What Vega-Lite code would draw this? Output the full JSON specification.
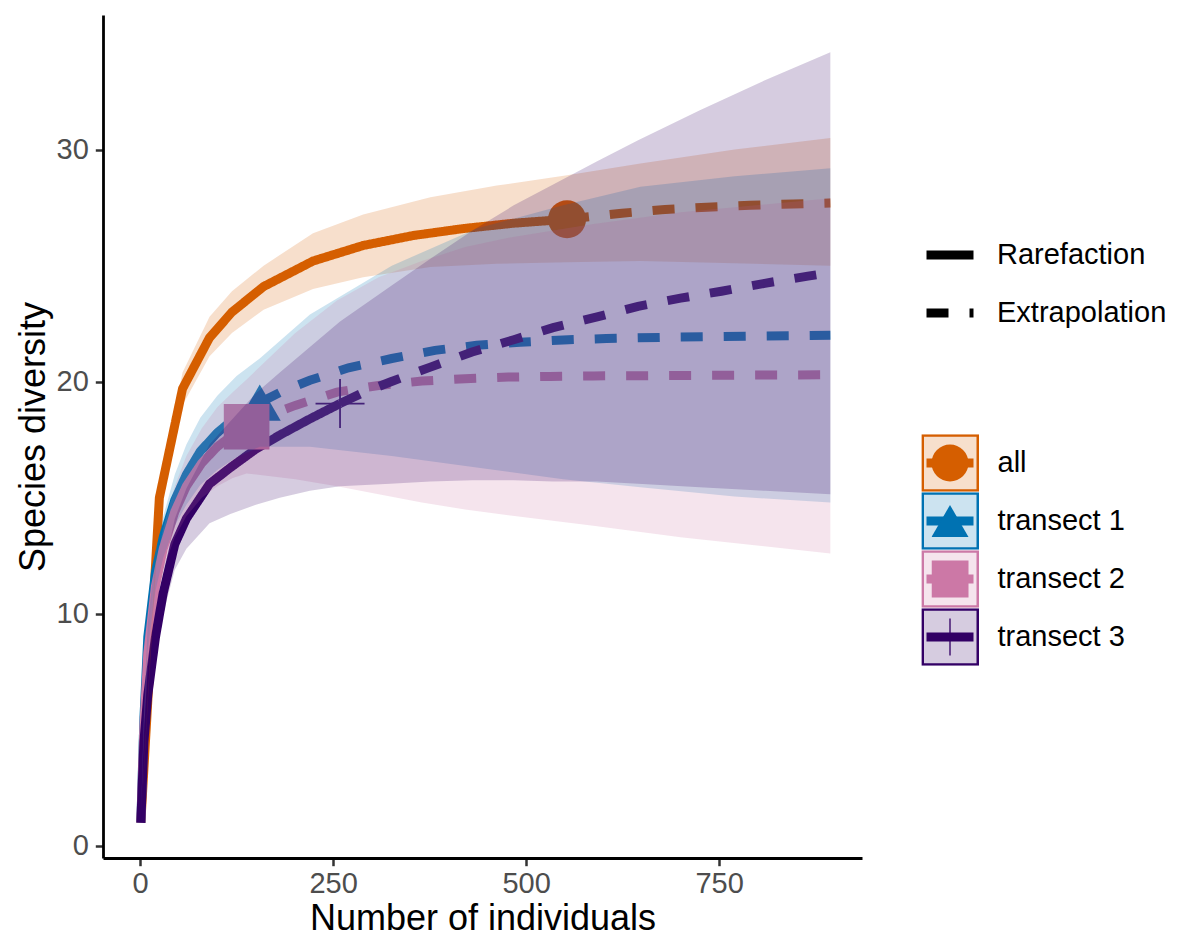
{
  "$schema": "https://vega.github.io/schema/vega-lite/v6.json",
  "width": 759,
  "height": 843,
  "autosize": {"type": "none"},
  "padding": {"left": 103, "top": 15, "right": 325, "bottom": 82},
  "background": "white",
  "config": {
    "font": "Liberation Sans",
    "view": {"stroke": null},
    "axis": {
      "grid": false,
      "domainColor": "black",
      "domainWidth": 2.8,
      "tickColor": "#333333",
      "tickWidth": 2.5,
      "tickSize": 7.7,
      "labelColor": "#4D4D4D",
      "labelFontSize": 29,
      "labelFont": "Liberation Sans",
      "labelPadding": 6,
      "labelFlush": false,
      "labelOverlap": false,
      "titleFont": "Liberation Sans",
      "titleFontSize": 36,
      "titleFontWeight": "normal",
      "titleColor": "black"
    },
    "legend": {
      "labelFont": "Liberation Sans",
      "labelFontSize": 29,
      "labelColor": "black",
      "labelLimit": 400,
      "padding": 0,
      "titlePadding": 0
    }
  },
  "datasets": {
    "curves": [
      {"group": "all", "method": "Rarefaction", "x": 1, "y": 1},
      {"group": "all", "method": "Rarefaction", "x": 25, "y": 15.0},
      {"group": "all", "method": "Rarefaction", "x": 55, "y": 19.7},
      {"group": "all", "method": "Rarefaction", "x": 90, "y": 21.9},
      {"group": "all", "method": "Rarefaction", "x": 119, "y": 23.0},
      {"group": "all", "method": "Rarefaction", "x": 160, "y": 24.1},
      {"group": "all", "method": "Rarefaction", "x": 224, "y": 25.2},
      {"group": "all", "method": "Rarefaction", "x": 289, "y": 25.87},
      {"group": "all", "method": "Rarefaction", "x": 354, "y": 26.3},
      {"group": "all", "method": "Rarefaction", "x": 419, "y": 26.6},
      {"group": "all", "method": "Rarefaction", "x": 484, "y": 26.83},
      {"group": "all", "method": "Rarefaction", "x": 553, "y": 27.0},
      {"group": "all", "method": "Extrapolation", "x": 553, "y": 27.0},
      {"group": "all", "method": "Extrapolation", "x": 624, "y": 27.26},
      {"group": "all", "method": "Extrapolation", "x": 680, "y": 27.42},
      {"group": "all", "method": "Extrapolation", "x": 734, "y": 27.52},
      {"group": "all", "method": "Extrapolation", "x": 790, "y": 27.6},
      {"group": "all", "method": "Extrapolation", "x": 846, "y": 27.66},
      {"group": "all", "method": "Extrapolation", "x": 894, "y": 27.7},
      {"group": "transect 1", "method": "Rarefaction", "x": 1, "y": 1},
      {"group": "transect 1", "method": "Rarefaction", "x": 5, "y": 5.5},
      {"group": "transect 1", "method": "Rarefaction", "x": 10, "y": 9.0},
      {"group": "transect 1", "method": "Rarefaction", "x": 20, "y": 11.8},
      {"group": "transect 1", "method": "Rarefaction", "x": 30, "y": 13.3},
      {"group": "transect 1", "method": "Rarefaction", "x": 45, "y": 14.9},
      {"group": "transect 1", "method": "Rarefaction", "x": 60, "y": 16.0},
      {"group": "transect 1", "method": "Rarefaction", "x": 78, "y": 17.0},
      {"group": "transect 1", "method": "Rarefaction", "x": 100, "y": 17.8},
      {"group": "transect 1", "method": "Rarefaction", "x": 125, "y": 18.5},
      {"group": "transect 1", "method": "Rarefaction", "x": 155, "y": 19.1},
      {"group": "transect 1", "method": "Extrapolation", "x": 155, "y": 19.1},
      {"group": "transect 1", "method": "Extrapolation", "x": 185, "y": 19.6},
      {"group": "transect 1", "method": "Extrapolation", "x": 220, "y": 20.06},
      {"group": "transect 1", "method": "Extrapolation", "x": 270, "y": 20.6},
      {"group": "transect 1", "method": "Extrapolation", "x": 326, "y": 21.0},
      {"group": "transect 1", "method": "Extrapolation", "x": 382, "y": 21.35},
      {"group": "transect 1", "method": "Extrapolation", "x": 436, "y": 21.57},
      {"group": "transect 1", "method": "Extrapolation", "x": 492, "y": 21.7},
      {"group": "transect 1", "method": "Extrapolation", "x": 548, "y": 21.8},
      {"group": "transect 1", "method": "Extrapolation", "x": 604, "y": 21.86},
      {"group": "transect 1", "method": "Extrapolation", "x": 700, "y": 21.93},
      {"group": "transect 1", "method": "Extrapolation", "x": 894, "y": 22.0},
      {"group": "transect 2", "method": "Rarefaction", "x": 1, "y": 1},
      {"group": "transect 2", "method": "Rarefaction", "x": 5, "y": 5.2},
      {"group": "transect 2", "method": "Rarefaction", "x": 10, "y": 8.3},
      {"group": "transect 2", "method": "Rarefaction", "x": 20, "y": 11.2},
      {"group": "transect 2", "method": "Rarefaction", "x": 30, "y": 12.8},
      {"group": "transect 2", "method": "Rarefaction", "x": 45, "y": 14.4},
      {"group": "transect 2", "method": "Rarefaction", "x": 60, "y": 15.5},
      {"group": "transect 2", "method": "Rarefaction", "x": 80, "y": 16.5},
      {"group": "transect 2", "method": "Rarefaction", "x": 100, "y": 17.2},
      {"group": "transect 2", "method": "Rarefaction", "x": 120, "y": 17.7},
      {"group": "transect 2", "method": "Rarefaction", "x": 138, "y": 18.06},
      {"group": "transect 2", "method": "Extrapolation", "x": 138, "y": 18.06},
      {"group": "transect 2", "method": "Extrapolation", "x": 170, "y": 18.6},
      {"group": "transect 2", "method": "Extrapolation", "x": 201, "y": 18.98},
      {"group": "transect 2", "method": "Extrapolation", "x": 255, "y": 19.55},
      {"group": "transect 2", "method": "Extrapolation", "x": 309, "y": 19.84},
      {"group": "transect 2", "method": "Extrapolation", "x": 365, "y": 20.03},
      {"group": "transect 2", "method": "Extrapolation", "x": 421, "y": 20.13},
      {"group": "transect 2", "method": "Extrapolation", "x": 477, "y": 20.2},
      {"group": "transect 2", "method": "Extrapolation", "x": 531, "y": 20.23},
      {"group": "transect 2", "method": "Extrapolation", "x": 587, "y": 20.25},
      {"group": "transect 2", "method": "Extrapolation", "x": 700, "y": 20.27},
      {"group": "transect 2", "method": "Extrapolation", "x": 894, "y": 20.3},
      {"group": "transect 3", "method": "Rarefaction", "x": 1, "y": 1},
      {"group": "transect 3", "method": "Rarefaction", "x": 5, "y": 4.5},
      {"group": "transect 3", "method": "Rarefaction", "x": 10, "y": 6.5},
      {"group": "transect 3", "method": "Rarefaction", "x": 20, "y": 9.0},
      {"group": "transect 3", "method": "Rarefaction", "x": 30, "y": 10.9},
      {"group": "transect 3", "method": "Rarefaction", "x": 45, "y": 13.0},
      {"group": "transect 3", "method": "Rarefaction", "x": 60, "y": 14.1},
      {"group": "transect 3", "method": "Rarefaction", "x": 90, "y": 15.6},
      {"group": "transect 3", "method": "Rarefaction", "x": 117, "y": 16.3},
      {"group": "transect 3", "method": "Rarefaction", "x": 150, "y": 17.1},
      {"group": "transect 3", "method": "Rarefaction", "x": 181, "y": 17.7},
      {"group": "transect 3", "method": "Rarefaction", "x": 220, "y": 18.4},
      {"group": "transect 3", "method": "Rarefaction", "x": 259, "y": 19.06},
      {"group": "transect 3", "method": "Extrapolation", "x": 259, "y": 19.06},
      {"group": "transect 3", "method": "Extrapolation", "x": 290, "y": 19.55},
      {"group": "transect 3", "method": "Extrapolation", "x": 324, "y": 19.99},
      {"group": "transect 3", "method": "Extrapolation", "x": 376, "y": 20.63},
      {"group": "transect 3", "method": "Extrapolation", "x": 430, "y": 21.28},
      {"group": "transect 3", "method": "Extrapolation", "x": 484, "y": 21.81},
      {"group": "transect 3", "method": "Extrapolation", "x": 535, "y": 22.33},
      {"group": "transect 3", "method": "Extrapolation", "x": 592, "y": 22.79},
      {"group": "transect 3", "method": "Extrapolation", "x": 645, "y": 23.25},
      {"group": "transect 3", "method": "Extrapolation", "x": 700, "y": 23.6},
      {"group": "transect 3", "method": "Extrapolation", "x": 753, "y": 23.9},
      {"group": "transect 3", "method": "Extrapolation", "x": 809, "y": 24.24},
      {"group": "transect 3", "method": "Extrapolation", "x": 865, "y": 24.55},
      {"group": "transect 3", "method": "Extrapolation", "x": 894, "y": 24.7}
    ],
    "obs": [
      {"group": "all", "x": 553, "y": 27.0},
      {"group": "transect 1", "x": 155, "y": 19.1},
      {"group": "transect 2", "x": 138, "y": 18.06},
      {"group": "transect 3", "x": 259, "y": 19.06}
    ],
    "bands": [
      {"group": "all", "x": 1, "lower": 1, "upper": 1},
      {"group": "all", "x": 25, "lower": 14.5, "upper": 15.5},
      {"group": "all", "x": 55, "lower": 19.0, "upper": 20.4},
      {"group": "all", "x": 90, "lower": 21.1, "upper": 22.8},
      {"group": "all", "x": 119, "lower": 22.1, "upper": 23.9},
      {"group": "all", "x": 160, "lower": 23.1, "upper": 25.0},
      {"group": "all", "x": 224, "lower": 24.0, "upper": 26.4},
      {"group": "all", "x": 289, "lower": 24.5, "upper": 27.2},
      {"group": "all", "x": 376, "lower": 24.94, "upper": 27.95},
      {"group": "all", "x": 462, "lower": 25.08, "upper": 28.45},
      {"group": "all", "x": 553, "lower": 25.15, "upper": 28.9},
      {"group": "all", "x": 648, "lower": 25.2, "upper": 29.4},
      {"group": "all", "x": 770, "lower": 25.1, "upper": 30.0},
      {"group": "all", "x": 894, "lower": 25.0, "upper": 30.5},
      {"group": "transect 1", "x": 1, "lower": 1, "upper": 1},
      {"group": "transect 1", "x": 5, "lower": 5.1, "upper": 5.9},
      {"group": "transect 1", "x": 10, "lower": 8.4, "upper": 9.6},
      {"group": "transect 1", "x": 20, "lower": 11.0, "upper": 12.6},
      {"group": "transect 1", "x": 30, "lower": 12.4, "upper": 14.2},
      {"group": "transect 1", "x": 45, "lower": 13.8, "upper": 16.0},
      {"group": "transect 1", "x": 60, "lower": 14.7, "upper": 17.3},
      {"group": "transect 1", "x": 78, "lower": 15.55, "upper": 18.45},
      {"group": "transect 1", "x": 100, "lower": 16.2, "upper": 19.4},
      {"group": "transect 1", "x": 125, "lower": 16.75, "upper": 20.25},
      {"group": "transect 1", "x": 155, "lower": 17.2, "upper": 21.0},
      {"group": "transect 1", "x": 220, "lower": 17.2, "upper": 22.9},
      {"group": "transect 1", "x": 326, "lower": 16.8, "upper": 25.0},
      {"group": "transect 1", "x": 436, "lower": 16.3, "upper": 26.6},
      {"group": "transect 1", "x": 548, "lower": 15.8, "upper": 27.6},
      {"group": "transect 1", "x": 648, "lower": 15.45, "upper": 28.4},
      {"group": "transect 1", "x": 770, "lower": 15.05, "upper": 28.85},
      {"group": "transect 1", "x": 894, "lower": 14.8, "upper": 29.2},
      {"group": "transect 2", "x": 1, "lower": 1, "upper": 1},
      {"group": "transect 2", "x": 5, "lower": 4.8, "upper": 5.6},
      {"group": "transect 2", "x": 10, "lower": 7.7, "upper": 8.9},
      {"group": "transect 2", "x": 20, "lower": 10.4, "upper": 12.0},
      {"group": "transect 2", "x": 30, "lower": 11.9, "upper": 13.7},
      {"group": "transect 2", "x": 45, "lower": 13.3, "upper": 15.5},
      {"group": "transect 2", "x": 60, "lower": 14.2, "upper": 16.8},
      {"group": "transect 2", "x": 80, "lower": 15.0, "upper": 18.0},
      {"group": "transect 2", "x": 100, "lower": 15.5, "upper": 18.9},
      {"group": "transect 2", "x": 120, "lower": 15.85, "upper": 19.55},
      {"group": "transect 2", "x": 138, "lower": 16.05, "upper": 20.1},
      {"group": "transect 2", "x": 201, "lower": 15.8, "upper": 22.1},
      {"group": "transect 2", "x": 255, "lower": 15.5, "upper": 23.5},
      {"group": "transect 2", "x": 309, "lower": 15.15, "upper": 24.5},
      {"group": "transect 2", "x": 365, "lower": 14.8, "upper": 25.2},
      {"group": "transect 2", "x": 421, "lower": 14.5, "upper": 25.8},
      {"group": "transect 2", "x": 477, "lower": 14.25, "upper": 26.2},
      {"group": "transect 2", "x": 587, "lower": 13.8, "upper": 26.8},
      {"group": "transect 2", "x": 700, "lower": 13.3, "upper": 27.3},
      {"group": "transect 2", "x": 894, "lower": 12.6, "upper": 27.9},
      {"group": "transect 3", "x": 1, "lower": 1, "upper": 1},
      {"group": "transect 3", "x": 5, "lower": 4.1, "upper": 4.9},
      {"group": "transect 3", "x": 10, "lower": 5.9, "upper": 7.1},
      {"group": "transect 3", "x": 20, "lower": 8.2, "upper": 9.8},
      {"group": "transect 3", "x": 30, "lower": 10.0, "upper": 11.8},
      {"group": "transect 3", "x": 45, "lower": 11.9, "upper": 14.1},
      {"group": "transect 3", "x": 60, "lower": 12.8, "upper": 15.4},
      {"group": "transect 3", "x": 90, "lower": 13.9, "upper": 17.3},
      {"group": "transect 3", "x": 117, "lower": 14.3, "upper": 18.3},
      {"group": "transect 3", "x": 150, "lower": 14.7, "upper": 19.5},
      {"group": "transect 3", "x": 181, "lower": 15.0, "upper": 20.4},
      {"group": "transect 3", "x": 220, "lower": 15.3, "upper": 21.5},
      {"group": "transect 3", "x": 259, "lower": 15.5, "upper": 22.6},
      {"group": "transect 3", "x": 324, "lower": 15.6, "upper": 24.1},
      {"group": "transect 3", "x": 376, "lower": 15.7, "upper": 25.3},
      {"group": "transect 3", "x": 430, "lower": 15.75, "upper": 26.5},
      {"group": "transect 3", "x": 484, "lower": 15.75, "upper": 27.6},
      {"group": "transect 3", "x": 535, "lower": 15.7, "upper": 28.5},
      {"group": "transect 3", "x": 592, "lower": 15.7, "upper": 29.5},
      {"group": "transect 3", "x": 645, "lower": 15.6, "upper": 30.4},
      {"group": "transect 3", "x": 725, "lower": 15.45, "upper": 31.7},
      {"group": "transect 3", "x": 810, "lower": 15.3, "upper": 33.0},
      {"group": "transect 3", "x": 894, "lower": 15.15, "upper": 34.2}
    ]
  },
  "layer": [
    {
      "data": {"name": "curves"},
      "mark": {"type": "line", "strokeWidth": 9, "strokeCap": "butt"},
      "encoding": {
        "x": {
          "field": "x", "type": "quantitative", "title": "Number of individuals",
          "scale": {"domain": [-48, 935], "nice": false, "zero": false},
          "axis": {"values": [0, 250, 500, 750], "labelPadding": 4, "titlePadding": 3}
        },
        "y": {
          "field": "y", "type": "quantitative", "title": "Species diversity",
          "scale": {"domain": [-0.52, 35.8], "nice": false, "zero": false},
          "axis": {"values": [0, 10, 20, 30], "labelPadding": 7}
        },
        "stroke": {
          "field": "group", "type": "nominal",
          "scale": {"range": ["#D55E00", "#0072B2", "#CC79A7", "#330066"]},
          "legend": {
            "title": null, "orient": "none", "legendX": 819, "legendY": 419.25,
            "symbolType": "stroke", "symbolSize": 2209, "symbolStrokeWidth": 9,
            "clipHeight": 57.5, "rowPadding": 0, "labelExpr": "''", "labelOffset": 19,
            "encode": {"symbols": {"update": {"opacity": {"value": 1}}}}
          }
        },
        "strokeDash": {
          "field": "method", "type": "nominal",
          "scale": {"domain": ["Rarefaction", "Extrapolation"], "range": [[1, 0], [22, 21]]},
          "legend": {
            "title": null, "orient": "none", "legendX": 819, "legendY": 211,
            "symbolType": "stroke", "symbolSize": 2209, "symbolStrokeWidth": 9,
            "symbolStrokeColor": "black",
            "clipHeight": 58, "rowPadding": 0, "labelOffset": 19,
            "encode": {"symbols": {"update": {"stroke": {"value": "black"}, "opacity": {"value": 1}}}}
          }
        }
      }
    },
    {
      "data": {"name": "obs"},
      "mark": {"type": "point", "filled": true, "opacity": 1},
      "encoding": {
        "x": {"field": "x", "type": "quantitative", "title": "Number of individuals"},
        "y": {"field": "y", "type": "quantitative", "title": "Species diversity"},
        "color": {
          "field": "group", "type": "nominal",
          "scale": {"range": ["#D55E00", "#0072B2", "#CC79A7", "#330066"]},
          "legend": {
            "title": null, "orient": "none", "legendX": 828.5, "legendY": 419.25,
            "symbolSize": 1369, "symbolStrokeWidth": 0,
            "clipHeight": 57.5, "rowPadding": 0, "labelExpr": "''", "labelOffset": 19,
            "encode": {"symbols": {"update": {"size": {"scale": "size", "field": "value"}, "opacity": {"value": 1}}}}
          }
        },
        "shape": {
          "field": "group", "type": "nominal",
          "scale": {"range": ["circle", "triangle-up", "square", "M-1,-0.036H1V0.036H-1Z M-0.036,-1H0.036V1H-0.036Z"]},
          "legend": {
            "title": null, "orient": "none", "legendX": 828.5, "legendY": 419.25,
            "symbolSize": 1369, "symbolStrokeWidth": 0,
            "clipHeight": 57.5, "rowPadding": 0, "labelExpr": "''", "labelOffset": 19
          }
        },
        "size": {
          "field": "group", "type": "nominal",
          "scale": {"domain": ["all", "transect 1", "transect 2", "transect 3"], "range": [1444, 2401, 1369, 3080]},
          "legend": null
        }
      }
    },
    {
      "data": {"name": "bands"},
      "mark": {"type": "area", "fillOpacity": 0.2},
      "encoding": {
        "x": {"field": "x", "type": "quantitative", "title": "Number of individuals"},
        "y": {"field": "lower", "type": "quantitative", "title": "Species diversity"},
        "y2": {"field": "upper"},
        "fill": {
          "field": "group", "type": "nominal",
          "scale": {"range": ["#D55E00", "#0072B2", "#CC79A7", "#330066"]},
          "legend": {
            "title": null, "orient": "none", "legendX": 818.25, "legendY": 419.25,
            "symbolType": "square", "symbolSize": 3025, "symbolStrokeWidth": 2.5,
            "clipHeight": 57.5, "rowPadding": 0, "labelOffset": 18.25,
            "encode": {"symbols": {"update": {"fillOpacity": {"value": 0.2}, "opacity": {"value": 1}, "stroke": {"scale": "fill", "field": "value"}, "strokeWidth": {"value": 2.5}, "strokeOpacity": {"value": 1}}}}
          }
        }
      }
    }
  ]
}
